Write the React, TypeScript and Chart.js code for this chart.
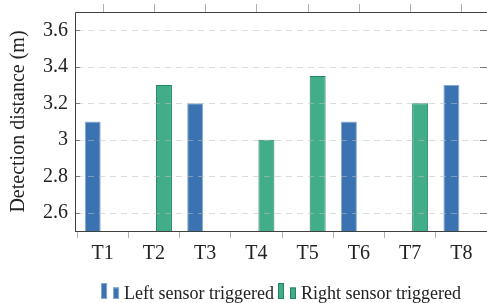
import React, { useEffect, useRef } from "react";
import { Chart, registerables } from "chart.js";

Chart.register(...registerables);

const categories = ["T1", "T2", "T3", "T4", "T5", "T6", "T7", "T8"];
const leftValues: (number | null)[] = [3.1, null, 3.2, null, null, 3.1, null, 3.3];
const rightValues: (number | null)[] = [null, 3.3, null, 3.0, 3.35, null, 3.2, null];
const yTicks = [2.6, 2.8, 3.0, 3.2, 3.4, 3.6];
const yMin = 2.5;
const yMax = 3.7;
const seriesLabels = ["Left sensor triggered", "Right sensor triggered"];
const yTitle = "Detection distance (m)";

const FONT = '"Liberation Serif", "Times New Roman", serif';

const toPoints = (vals: (number | null)[]) =>
  vals
    .map((v, i) => (v == null ? null : { x: i + 1, y: v }))
    .filter((p) => p !== null) as { x: number; y: number }[];

const decorPlugin = {
  id: "decor",
  afterDatasetsDraw(chart: any) {
    const { ctx, chartArea } = chart;
    const { left, right, top, bottom } = chartArea;
    const yScale = chart.scales.y;
    const xScale = chart.scales.x;
    ctx.save();
    ctx.strokeStyle = "rgba(190,190,190,0.55)";
    ctx.lineWidth = 1;
    ctx.setLineDash([6, 5]);
    yTicks.forEach((v) => {
      const y = Math.round(yScale.getPixelForValue(v)) + 0.5;
      ctx.beginPath();
      ctx.moveTo(left + 2, y);
      ctx.lineTo(right, y);
      ctx.stroke();
    });
    ctx.setLineDash([]);
    ctx.strokeStyle = "#7a7a7a";
    yTicks.forEach((v) => {
      const y = Math.round(yScale.getPixelForValue(v)) + 0.5;
      ctx.beginPath();
      ctx.moveTo(left, y);
      ctx.lineTo(left + 5, y);
      ctx.moveTo(right - 7, y);
      ctx.lineTo(right, y);
      ctx.stroke();
    });
    ctx.strokeStyle = "#b0b0b0";
    categories.forEach((_, i) => {
      const x = Math.round(xScale.getPixelForValue(i + 1)) + 0.5;
      ctx.beginPath();
      ctx.moveTo(x, top - 8);
      ctx.lineTo(x, top);
      ctx.stroke();
    });
    ctx.strokeStyle = "#404040";
    ctx.beginPath();
    ctx.moveTo(left + 0.5, bottom + 0.5);
    ctx.lineTo(left + 0.5, top + 0.5);
    ctx.lineTo(right + 0.5, top + 0.5);
    ctx.moveTo(left, bottom + 0.5);
    ctx.lineTo(right, bottom + 0.5);
    ctx.stroke();
    ctx.restore();
  },
  afterDraw(chart: any) {
    const { ctx, chartArea } = chart;
    ctx.save();
    ctx.font = "18px " + FONT;
    ctx.textBaseline = "alphabetic";
    const entries = chart.data.datasets.map((ds: any) => ({
      label: ds.label,
      fill: ds.backgroundColor,
      stroke: ds.borderColor,
      w: 23 + ctx.measureText(ds.label).width,
    }));
    const gap = 4;
    const total = entries.reduce((s: number, e: any) => s + e.w, 0) + gap * (entries.length - 1);
    let x = (chartArea.left + chartArea.right) / 2 - total / 2;
    const baseY = 299;
    entries.forEach((e: any) => {
      ctx.fillStyle = e.fill;
      ctx.strokeStyle = e.stroke;
      ctx.lineWidth = 1;
      ctx.fillRect(x, baseY - 16, 6, 16);
      ctx.strokeRect(x + 0.5, baseY - 15.5, 5, 15);
      ctx.fillRect(x + 12, baseY - 11.5, 6, 11.5);
      ctx.strokeRect(x + 12.5, baseY - 11, 5, 10.5);
      ctx.fillStyle = "#222";
      ctx.fillText(e.label, x + 23, baseY);
      x += e.w + gap;
    });
    ctx.restore();
  },
};

export default function App() {
  const canvasRef = useRef<HTMLCanvasElement | null>(null);

  useEffect(() => {
    document.body.style.margin = "0";
    document.body.style.overflow = "hidden";
    const canvas = canvasRef.current;
    if (!canvas) return;
    const unit = 51.24;
    const xMin = 1 - 27.7 / unit;
    const xMax = xMin + (487 - 75) / unit;
    const chart = new Chart(canvas, {
      type: "bar",
      data: {
        datasets: [
          {
            label: seriesLabels[0],
            data: toPoints(leftValues),
            backgroundColor: "#3b73b0",
            borderColor: "#88aad2",
            borderWidth: 1,
            borderSkipped: "start",
            base: yMin,
          } as any,
          {
            label: seriesLabels[1],
            data: toPoints(rightValues),
            backgroundColor: "#42ad89",
            borderColor: "#23845f",
            borderWidth: 1,
            borderSkipped: "start",
            base: yMin,
          } as any,
        ],
      },
      options: {
        animation: false,
        responsive: false,
        maintainAspectRatio: false,
        devicePixelRatio: 1,
        categoryPercentage: 0.78,
        barPercentage: 0.8,
        layout: { padding: { top: 12, left: 0, right: 0, bottom: 0 } },
        plugins: {
          legend: { display: false },
          tooltip: { enabled: false },
        },
        scales: {
          x: {
            type: "linear",
            min: xMin,
            max: xMax,
            offset: false,
            afterFit: (s: any) => {
              s.height = 72;
              s.paddingLeft = 0;
              s.paddingRight = 0;
            },
            afterBuildTicks: (s: any) => {
              s.ticks = categories.map((_, i) => ({ value: i + 1 }));
            },
            grid: {
              display: true,
              drawOnChartArea: false,
              drawTicks: true,
              tickLength: 7,
              color: "#b0b0b0",
            },
            border: { display: false },
            ticks: {
              autoSkip: false,
              maxRotation: 0,
              padding: 4,
              color: "#222",
              font: { family: FONT, size: 20 },
              callback: (v: any) => categories[Number(v) - 1] ?? "",
            },
          },
          y: {
            type: "linear",
            min: yMin,
            max: yMax,
            afterFit: (s: any) => {
              s.width = 75;
              s.paddingTop = 0;
              s.paddingBottom = 0;
            },
            afterBuildTicks: (s: any) => {
              s.ticks = yTicks.map((v) => ({ value: v }));
            },
            grid: { display: false, drawTicks: false },
            border: { display: false },
            ticks: {
              padding: 7,
              color: "#222",
              font: { family: FONT, size: 20 },
              callback: (v: any) => String(Math.round(Number(v) * 10) / 10),
            },
            title: {
              display: true,
              text: yTitle,
              color: "#222",
              font: { family: FONT, size: 20 },
              padding: { top: 7, bottom: 0 },
            },
          },
        },
      },
      plugins: [decorPlugin],
    });
    return () => chart.destroy();
  }, []);

  return (
    <div style={{ width: 487, height: 303 }}>
      <canvas ref={canvasRef} width={487} height={303} style={{ display: "block" }} />
    </div>
  );
}
